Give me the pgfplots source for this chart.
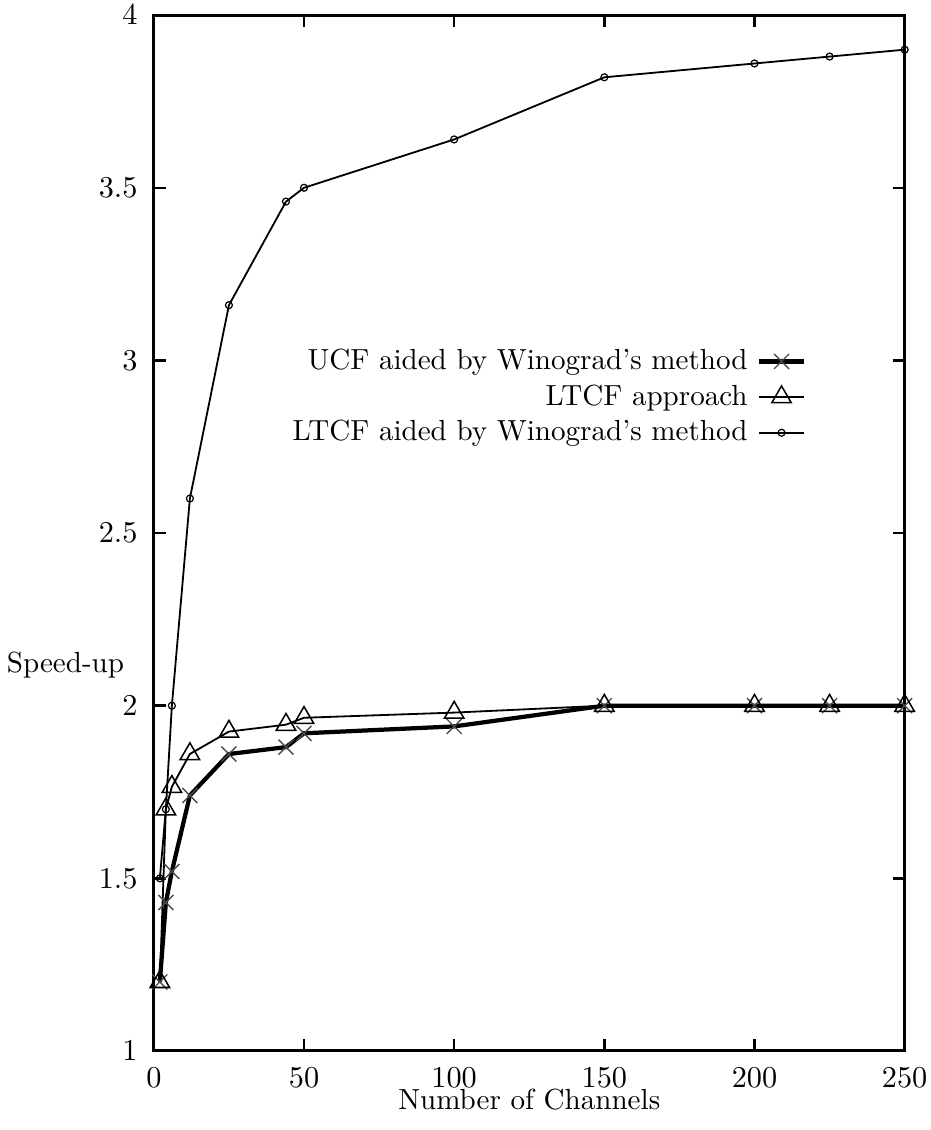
\documentclass[border=0pt]{standalone}
\usepackage{pgfplots}
\pgfplotsset{compat=1.18}
\begin{document}
\begin{tikzpicture}[font=\fontsize{9.6pt}{11.5pt}\selectfont]
\begin{axis}[
  scale only axis, width=247.9pt, height=342pt,
  xmin=0, xmax=250, ymin=1, ymax=4,
  xtick={0,50,100,150,200,250},
  ytick={1,1.5,2,2.5,3,3.5,4},
  tick align=inside, major tick length=4pt,
  axis line style={line width=1pt},
  every tick/.style={black, line width=0.8pt},
  xticklabel style={inner sep=0pt, anchor=north, yshift=-5.4pt},
  yticklabel style={inner sep=0pt, anchor=east, xshift=-5.2pt},
  xlabel={Number of Channels},
  ylabel={Speed-up},
  every axis x label/.style={at={(rel axis cs:0.5,0)}, anchor=base, inner sep=0pt, yshift=-19.4pt},
  every axis y label/.style={at={(rel axis cs:0,0.365)}, anchor=base east, xshift=-6.3pt},
  legend style={at={(rel axis cs:0.882,0.69)}, anchor=north east, draw=none, fill=none,
    row sep=-0.5pt, /tikz/every odd column/.style={column sep=1pt}},
  legend cell align=right,
  legend plot pos=right,
  legend image code/.code={\draw[mark repeat=2,mark phase=2]
    plot coordinates {(0pt,0pt)(7.5pt,0pt)(15pt,0pt)};},
]
\coordinate (bl) at (rel axis cs:0,0);
\coordinate (tr) at (rel axis cs:1,1);

% UCF aided by Winograd's method
\addplot[black, line width=1.4pt, mark=x, mark size=3.5pt,
  mark options={line width=0.45pt, gray!60!black}] coordinates {
  (2,1.20) (4,1.43) (6,1.52) (12,1.74) (25,1.86) (44,1.88) (50,1.92)
  (100,1.94) (150,2.00) (200,2.00) (225,2.00) (250,2.00)};
\addlegendentry{UCF aided by Winograd's method}

% LTCF approach
\addplot[black, line width=0.6pt, mark=triangle, mark size=3.7pt,
  mark options={line width=0.5pt}] coordinates {
  (2,1.20) (4,1.70) (6,1.765) (12,1.86) (25,1.925) (44,1.945) (50,1.965)
  (100,1.98) (150,2.00) (200,2.00) (225,2.00) (250,2.00)};
\addlegendentry{LTCF approach}

% LTCF aided by Winograd's method
\addplot[black, line width=0.6pt, mark=o, mark size=1.15pt,
  mark options={line width=0.4pt}] coordinates {
  (2,1.50) (4,1.70) (6,2.00) (12,2.60) (25,3.16) (44,3.46) (50,3.50)
  (100,3.64) (150,3.82) (200,3.86) (225,3.88) (250,3.90)};
\addlegendentry{LTCF aided by Winograd's method}
\end{axis}
\pgfresetboundingbox
\path ([shift={(-50.8pt,-26.1pt)}]bl) rectangle ([shift={(8.6pt,5pt)}]tr);
\end{tikzpicture}
\end{document}
